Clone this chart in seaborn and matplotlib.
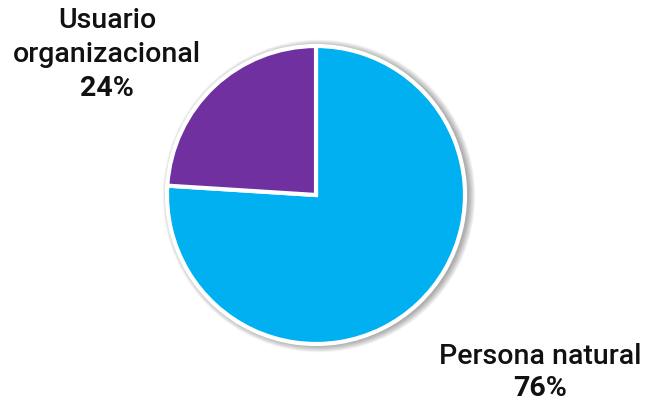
import matplotlib
matplotlib.use("Agg")
import matplotlib.pyplot as plt
import seaborn as sns
from matplotlib.patches import Circle

categories = ["Persona natural", "Usuario organizacional"]
shares = [76, 24]
colors = ["#00B0F0", "#7030A0"]

sns.set_theme(style="white")
plt.rcParams["font.family"] = ["Roboto", "DejaVu Sans"]

fig = plt.figure(figsize=(6.52, 4.06), dpi=100)
ax = fig.add_axes([0, 0, 1, 1])

cx, cy, r = 316, 210, 149

# soft drop shadow behind the pie
for i in range(10):
    ax.add_patch(Circle((cx + 3, cy - 1), r + 1 + i * 0.7, color="#000000",
                        alpha=0.035, lw=0, zorder=0))

ax.pie(shares, colors=sns.color_palette(colors), startangle=90, counterclock=False,
       center=(cx, cy), radius=r,
       wedgeprops=dict(edgecolor="white", linewidth=3), frame=True)
ax.set_xlim(0, 652)
ax.set_ylim(0, 406)
ax.set_aspect("equal")
ax.axis("off")

name_kw = dict(ha="center", va="center", fontsize=20.5, fontweight="medium", color="#111111")
pct_kw = dict(ha="center", va="center", fontsize=20.5, fontweight="bold", color="#111111")

ax.text(107, 406 - 20, "Usuario", **name_kw)
ax.text(107, 406 - 54, "organizacional", **name_kw)
ax.text(107, 406 - 89, f"{shares[1]}%", **pct_kw)

ax.text(540, 406 - 357, categories[0], **name_kw)
ax.text(540, 406 - 389, f"{shares[0]}%", **pct_kw)

fig.savefig("out.png", dpi=100)
